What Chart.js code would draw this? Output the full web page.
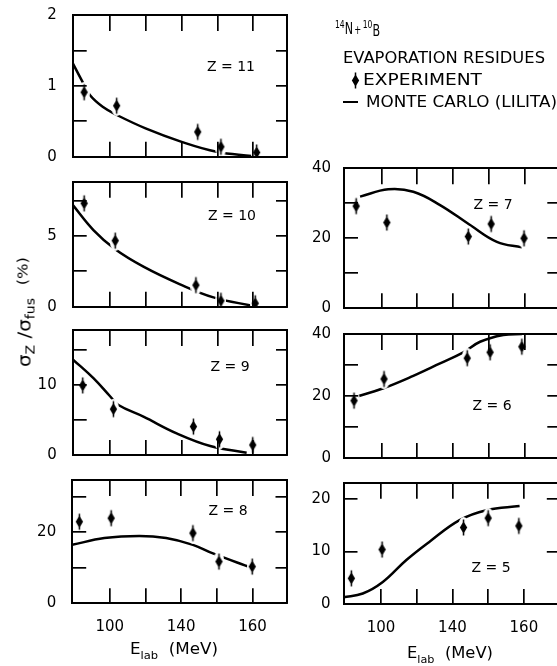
<!DOCTYPE html>
<html>
<head>
<meta charset="utf-8">
<script src="https://cdn.jsdelivr.net/npm/chart.js@4.4.1/dist/chart.umd.min.js"></script>
<style>
html,body{margin:0;padding:0;background:#fff;}
#wrap{position:relative;width:557px;height:666px;overflow:hidden;background:#fff;}
#wrap canvas.panel{position:absolute;}
.txt{position:absolute;font-family:'DejaVu Sans','Liberation Sans',sans-serif;color:#000;white-space:nowrap;line-height:1;}
</style>
</head>
<body>
<div id="wrap"></div>
<script>
// ---------------- data ----------------
// x is the position along the energy axis, in tick units (ticks at 1..5)
const xTickValues = [1, 2, 3, 4, 5];
const xTickLabels = ['100', '', '140', '', '160'];
const panelLabels = ['Z = 11', 'Z = 10', 'Z = 9', 'Z = 8', 'Z = 7', 'Z = 6', 'Z = 5'];

const z11ExpX = [0.27, 1.18, 3.45, 4.10, 5.10];
const z11ExpY = [0.91, 0.72, 0.35, 0.14, 0.06];
const z11FitX = [-0.05, 0.20, 0.43, 0.80, 1.18, 1.99, 3.00, 3.98, 4.96];
const z11FitY = [1.32, 1.08, 0.87, 0.70, 0.59, 0.40, 0.21, 0.07, 0.01];

const z10ExpX = [0.27, 1.14, 3.40, 4.10, 5.06];
const z10ExpY = [7.31, 4.67, 1.53, 0.42, 0.24];
const z10FitX = [-0.05, 0.53, 1.14, 1.93, 2.94, 3.89, 5.01];
const z10FitY = [7.2, 5.42, 4.06, 2.83, 1.60, 0.66, 0.05];

const z9ExpX = [0.23, 1.09, 3.33, 4.06, 4.99];
const z9ExpY = [9.97, 6.57, 4.07, 2.26, 1.44];
const z9FitX = [-0.05, 0.53, 0.99, 1.23, 1.93, 2.86, 3.80, 4.82];
const z9FitY = [13.7, 11.0, 8.45, 7.16, 5.49, 3.10, 1.29, 0.33];

const z8ExpX = [0.15, 1.04, 3.33, 4.06, 4.99];
const z8ExpY = [22.9, 23.9, 19.7, 11.7, 10.3];
const z8FitX = [-0.05, 0.85, 1.83, 2.58, 3.33, 3.89, 4.96];
const z8FitY = [16.4, 18.3, 18.9, 18.3, 16.4, 14.0, 10.0];

const z7ExpX = [0.29, 1.15, 3.43, 4.07, 4.99];
const z7ExpY = [29.2, 24.5, 20.5, 24.1, 20.0];
const z7FitX = [0.40, 1.19, 1.89, 2.64, 3.48, 4.23, 4.93];
const z7FitY = [31.9, 34.0, 33.3, 29.5, 23.8, 19.0, 17.4];

const z6ExpX = [0.23, 1.07, 3.40, 4.04, 4.93];
const z6ExpY = [18.5, 25.5, 32.2, 34.1, 35.9];
const z6FitX = [0.26, 1.05, 1.89, 2.64, 3.25, 3.76, 4.41, 4.93];
const z6FitY = [19.6, 22.5, 26.5, 30.5, 33.8, 37.5, 39.7, 40.0];

const z5ExpX = [0.17, 1.03, 3.31, 4.00, 4.86];
const z5ExpY = [4.9, 10.4, 14.6, 16.4, 14.9];
const z5FitX = [-0.05, 0.49, 1.05, 1.71, 2.36, 3.20, 3.95, 4.88];
const z5FitY = [1.3, 2.0, 4.2, 8.4, 11.9, 16.0, 17.9, 18.7];

const yMaxes = [2, 8.84, 17.9, 34.6, 40, 40, 23.15];
const yTickValues = [[0, 0.5, 1, 1.5, 2], [0, 2.5, 5, 7.5], [0, 5, 10, 15], [0, 10, 20, 30],
                     [0, 10, 20, 30, 40], [0, 10, 20, 30, 40], [0, 10, 20]];
const yTickLabels = [['0', '', '1', '', '2'], ['0', '', '5', ''], ['0', '', '10', ''], ['0', '', '20', ''],
                     ['0', '', '20', '', '40'], ['0', '', '20', '', '40'], ['0', '10', '20']];

const expXs = [z11ExpX, z10ExpX, z9ExpX, z8ExpX, z7ExpX, z6ExpX, z5ExpX];
const expYs = [z11ExpY, z10ExpY, z9ExpY, z8ExpY, z7ExpY, z6ExpY, z5ExpY];
const fitXs = [z11FitX, z10FitX, z9FitX, z8FitX, z7FitX, z6FitX, z5FitX];
const fitYs = [z11FitY, z10FitY, z9FitY, z8FitY, z7FitY, z6FitY, z5FitY];

// ---------------- layout (pixels) ----------------
const frames = [
  {l: 72.7, r: 287, t: 15, b: 156.7},
  {l: 72.7, r: 287, t: 181.7, b: 306.7},
  {l: 72.7, r: 287, t: 330, b: 455},
  {l: 72.2, r: 286.5, t: 480, b: 603.3},
  {l: 344, r: 558.3, t: 168.3, b: 308.3},
  {l: 344, r: 558.3, t: 334, b: 458},
  {l: 343.5, r: 557.8, t: 482.7, b: 604}
];
const labelPos = [[231, 66], [232, 215], [230, 366], [228, 510], [493, 204], [492, 405], [491, 567]];
const FONT = "'DejaVu Sans','Liberation Sans',sans-serif";

function makeMarker(halo) {
  const c = document.createElement('canvas');
  c.width = 11; c.height = 21;
  const g = c.getContext('2d');
  if (halo) {
    g.fillStyle = '#fff';
    g.beginPath();
    g.ellipse(5.5, 10.5, 5.5, 10.5, 0, 0, Math.PI * 2);
    g.fill();
  }
  g.fillStyle = '#000';
  g.beginPath();
  g.moveTo(5.5, 4.5); g.lineTo(9.2, 10.5); g.lineTo(5.5, 16.5); g.lineTo(1.8, 10.5); g.closePath();
  g.fill();
  g.fillRect(4.75, 2.5, 1.5, 16);
  return c;
}

const wrap = document.getElementById('wrap');
const marker = makeMarker(true);

frames.forEach((f, i) => {
  const isLeft = i < 4;
  const isBottom = (i === 3 || i === 6);
  const cl = isLeft ? 0 : 288;
  const cw = isLeft ? 300 : 290;
  const ct = Math.floor(f.t - 14);
  const hbWanted = isBottom ? 48 : 14;
  const ch = Math.ceil(f.b - ct + hbWanted);
  const cv = document.createElement('canvas');
  cv.className = 'panel';
  cv.width = cw; cv.height = ch;
  cv.style.left = cl + 'px'; cv.style.top = ct + 'px';
  cv.style.width = cw + 'px'; cv.style.height = ch + 'px';
  wrap.appendChild(cv);

  const padTop = f.t - ct;
  const hb = ch - (f.b - ct);
  const yW = f.l - cl;
  const padRight = cw - (f.r - cl);

  const tickFont = {family: FONT, size: 15};
  const gridBase = (len) => ({drawOnChartArea: false, drawTicks: true, tickLength: len,
    color: '#000', tickColor: '#000', lineWidth: 1.7, tickWidth: 1.7, z: 1});
  const borderBase = {display: true, color: '#000', width: 2, z: 1};
  const yVals = yTickValues[i];
  const yLabs = yTickLabels[i];
  const innerY = yVals.filter(v => v !== 0 && v !== yMaxes[i]);
  const noPadH = s => { s.paddingLeft = 0; s.paddingRight = 0; };
  const noPadV = s => { s.paddingTop = 0; s.paddingBottom = 0; };

  new Chart(cv, {
    type: 'line',
    data: {
      datasets: [
        {
          label: 'EXPERIMENT',
          data: expXs[i].map((x, k) => ({x: x, y: expYs[i][k]})),
          showLine: false,
          pointStyle: marker,
          pointRadius: 6,
          order: 0
        },
        {
          label: 'MONTE CARLO (LILITA)',
          data: fitXs[i].map((x, k) => ({x: x, y: fitYs[i][k]})),
          borderColor: '#000',
          borderWidth: 2.5,
          pointRadius: 0,
          fill: false,
          tension: 0.4,
          order: 1
        }
      ]
    },
    options: {
      responsive: false,
      animation: false,
      events: [],
      plugins: {legend: {display: false}, tooltip: {enabled: false}},
      layout: {padding: {top: padTop, right: padRight, left: 0, bottom: 0}},
      scales: {
        x: {
          type: 'linear', position: 'bottom', min: -0.05, max: 5.95,
          afterBuildTicks: s => { s.ticks = xTickValues.map(v => ({value: v})); },
          afterFit: s => { s.height = hb; noPadH(s); },
          grid: gridBase(-15),
          border: borderBase,
          ticks: {display: isBottom, autoSkip: false, maxRotation: 0, minRotation: 0, padding: 30,
            color: '#000', font: tickFont,
            callback: v => { const k = xTickValues.indexOf(v); return k >= 0 ? xTickLabels[k] : ''; }}
        },
        x2: {
          type: 'linear', position: 'top', min: -0.05, max: 5.95,
          afterBuildTicks: s => { s.ticks = xTickValues.map(v => ({value: v})); },
          afterFit: s => { s.height = 0; noPadH(s); },
          grid: gridBase(-16),
          border: borderBase,
          ticks: {display: false}
        },
        y: {
          type: 'linear', position: 'left', min: 0, max: yMaxes[i],
          afterBuildTicks: s => { s.ticks = yVals.map(v => ({value: v})); },
          afterFit: s => { s.width = yW; noPadV(s); },
          grid: gridBase(-14),
          border: borderBase,
          ticks: {display: true, autoSkip: false, padding: isLeft ? 30 : 27, color: '#000', font: tickFont,
            callback: v => { const k = yVals.indexOf(v); return k >= 0 ? yLabs[k] : ''; }}
        },
        y2: {
          type: 'linear', position: 'right', min: 0, max: yMaxes[i],
          afterBuildTicks: s => { s.ticks = innerY.map(v => ({value: v})); },
          afterFit: s => { s.width = 0; noPadV(s); },
          grid: gridBase(-11),
          border: borderBase,
          ticks: {display: false}
        }
      }
    }
  });

  const zl = document.createElement('div');
  zl.className = 'txt';
  zl.style.fontSize = '14px';
  zl.style.left = labelPos[i][0] + 'px';
  zl.style.top = labelPos[i][1] + 'px';
  zl.style.transform = 'translate(-50%,-50%)';
  zl.textContent = panelLabels[i];
  wrap.appendChild(zl);
});

// ---------------- text: legend & axis titles ----------------
function addText(html, left, cy, size, width) {
  const d = document.createElement('div');
  d.className = 'txt';
  d.style.fontSize = size + 'px';
  d.innerHTML = html;
  wrap.appendChild(d);
  const r = d.getBoundingClientRect();
  d.style.left = left + 'px';
  d.style.top = (cy - r.height / 2) + 'px';
  if (width) {
    d.style.transformOrigin = '0 50%';
    d.style.transform = 'scaleX(' + (width / r.width) + ')';
  }
  return d;
}

addText('<span style="font-size:11px;position:relative;top:-6px">14</span>N<span style="font-size:12px;margin:0 2px">+</span><span style="font-size:11px;position:relative;top:-6px">10</span><span style="position:relative;top:2px">B</span>', 335, 29, 16, 45);
addText('EVAPORATION RESIDUES', 343, 58, 15, 202);
addText('EXPERIMENT', 363, 80, 15, 119);
addText('MONTE CARLO (LILITA)', 366, 102, 15, 191);

// legend glyphs
const lm = makeMarker(false);
lm.style.position = 'absolute';
lm.style.left = '350px';
lm.style.top = (80 - 10.5) + 'px';
wrap.appendChild(lm);
const ll = document.createElement('div');
ll.style.cssText = 'position:absolute;left:343px;top:101px;width:15px;height:2.4px;background:#000;';
wrap.appendChild(ll);

// x-axis titles
addText('E<span style="font-size:11px;position:relative;top:5px">lab</span>&nbsp;&nbsp;(MeV)', 130, 649, 16, 88);
addText('E<span style="font-size:11px;position:relative;top:5px">lab</span>&nbsp;&nbsp;(MeV)', 407, 653, 16, 86);

// y-axis title (rotated)
(function () {
  const holder = document.createElement('div');
  holder.style.cssText = 'position:absolute;left:25px;top:312px;width:0;height:0;';
  const d = document.createElement('div');
  d.className = 'txt';
  d.style.fontSize = '17px';
  d.innerHTML = '\u03C3<span style="font-size:12px;position:relative;top:4px">Z</span> /\u03C3<span style="font-size:12px;position:relative;top:4px">fus</span>&nbsp;&nbsp;<span style="font-size:14px;position:relative;top:-3px">(%)</span>';
  holder.appendChild(d);
  wrap.appendChild(holder);
  const w = d.getBoundingClientRect().width;
  d.style.left = '0px'; d.style.top = '0px';
  d.style.transformOrigin = '50% 50%';
  d.style.transform = 'translate(-50%,-50%) rotate(-90deg) scaleX(' + (110 / w) + ')';
})();
</script>
</body>
</html>
